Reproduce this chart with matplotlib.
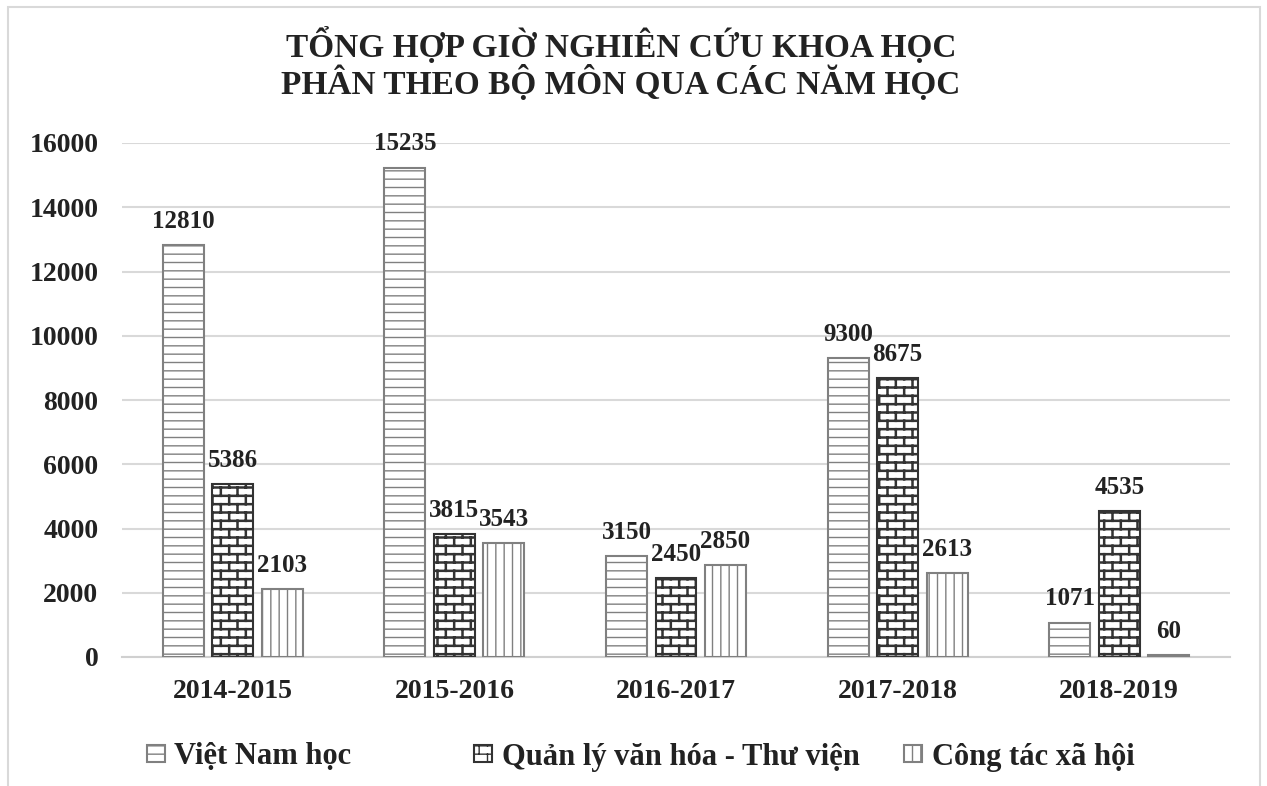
import warnings
import numpy as np
import matplotlib
matplotlib.use("Agg")
import matplotlib.pyplot as plt
from matplotlib import hatch as mhatch
from matplotlib.path import Path
from matplotlib.patches import Rectangle

warnings.filterwarnings("ignore")

years = ['2014-2015', '2015-2016', '2016-2017', '2017-2018', '2018-2019']
series_names = ['Việt Nam học', 'Quản lý văn hóa - Thư viện', 'Công tác xã hội']
viet_nam_hoc = [12810, 15235, 3150, 9300, 1071]
quan_ly_vh = [5386, 3815, 2450, 8675, 4535]
cong_tac_xh = [2103, 3543, 2850, 2613, 60]
y_ticks = [0, 2000, 4000, 6000, 8000, 10000, 12000, 14000, 16000]


# brick hatch ('b'): horizontal mortar rows with staggered joints
class BrickHatch(mhatch.HatchPatternBase):
    def __init__(self, hatch, density):
        n = hatch.count('b')
        self.rows = 2 * density * n
        self.cols = density * n
        self.num_vertices = (self.rows * 2 + (self.rows + 1) * self.cols * 2) if n else 0

    def set_vertices_and_codes(self, vertices, codes):
        rows, cols = self.rows, self.cols
        h = 1.0 / rows
        i = 0
        for r in range(rows):
            y = (r + 0.5) * h
            vertices[i] = (0.0, y)
            vertices[i + 1] = (1.0, y)
            codes[i] = Path.MOVETO
            codes[i + 1] = Path.LINETO
            i += 2
        for r in range(rows):
            y0 = (r + 0.5) * h
            if r == rows - 1:
                segs = [(y0, 1.0), (0.0, 0.5 * h)]
            else:
                segs = [(y0, y0 + h)]
            for k in range(cols):
                x = (k + 0.25 + 0.5 * (r % 2)) / cols
                for a, b in segs:
                    vertices[i] = (x, a)
                    vertices[i + 1] = (x, b)
                    codes[i] = Path.MOVETO
                    codes[i + 1] = Path.LINETO
                    i += 2


mhatch._hatch_types.append(BrickHatch)

plt.rcParams['font.family'] = ['Liberation Serif', 'DejaVu Serif']
plt.rcParams['font.weight'] = 'bold'
plt.rcParams['hatch.linewidth'] = 1.0

fig = plt.figure(figsize=(12.67, 7.86), dpi=100)
fig.patches.append(Rectangle((8 / 1267, -0.05), 1252 / 1267, 1.05 - 7 / 786,
                             transform=fig.transFigure, fill=False,
                             edgecolor='#d9d9d9', lw=1.5))

ax = fig.add_axes([122 / 1267, 129 / 786, 1108 / 1267, 514 / 786])

x = np.arange(len(years))
pitch = 0.223
width = 0.185
styles = [
    dict(hatch='--', edgecolor='#808080', hlw=1.0),
    dict(hatch='b', edgecolor='#333333', hlw=1.8),
    dict(hatch='||', edgecolor='#808080', hlw=1.0),
]
handles = []
for i, (vals, st) in enumerate(zip([viet_nam_hoc, quan_ly_vh, cong_tac_xh], styles)):
    bars = ax.bar(x + (i - 1) * pitch, vals, width, facecolor='white',
                  edgecolor=st['edgecolor'], hatch=st['hatch'], linewidth=1.5,
                  label=series_names[i], zorder=3)
    for b in bars:
        if hasattr(b, 'set_hatch_linewidth'):
            b.set_hatch_linewidth(st['hlw'])
    handles.append(bars)
    for xi, v in zip(x + (i - 1) * pitch, vals):
        ax.annotate(str(v), (xi, v), xytext=(0, 17), textcoords='offset points',
                    ha='center', va='center', fontsize=18, fontweight='bold',
                    color='#222222')

ax.set_xlim(-0.5, len(years) - 0.5)
ax.set_ylim(0, 16000)
ax.set_yticks(y_ticks)
ax.set_yticklabels([str(t) for t in y_ticks])
ax.set_xticks(x)
ax.set_xticklabels(years)
ax.tick_params(axis='y', length=0, pad=17, labelsize=20, labelcolor='#222222')
ax.tick_params(axis='x', length=0, pad=16, labelsize=20, labelcolor='#222222')
ax.grid(axis='y', color='#d9d9d9', linewidth=1.5, zorder=0)
ax.set_axisbelow(True)
for s in ['top', 'right', 'left']:
    ax.spines[s].set_visible(False)
ax.spines['bottom'].set_color('#d0d0d0')
ax.spines['bottom'].set_linewidth(1.5)

fig.text(621 / 1267, 1 - 64 / 786,
         'TỔNG HỢP GIỜ NGHIÊN CỨU KHOA HỌC\nPHÂN THEO BỘ MÔN QUA CÁC NĂM HỌC',
         ha='center', va='center', fontsize=24, fontweight='bold',
         linespacing=1.05, color='#222222')

# legend entries placed separately to match spacing
leg_x = [147, 474, 904]
for h, name, lx in zip(handles, series_names, leg_x):
    lg = fig.legend([h], [name], loc='center left',
                    bbox_to_anchor=(lx / 1267, 1 - 757 / 786),
                    frameon=False, fontsize=22, handlelength=0.6,
                    handleheight=0.5, handletextpad=0.3, borderpad=0,
                    borderaxespad=0)
    for t in lg.get_texts():
        t.set_color('#222222')

fig.savefig('out.png', dpi=100)
